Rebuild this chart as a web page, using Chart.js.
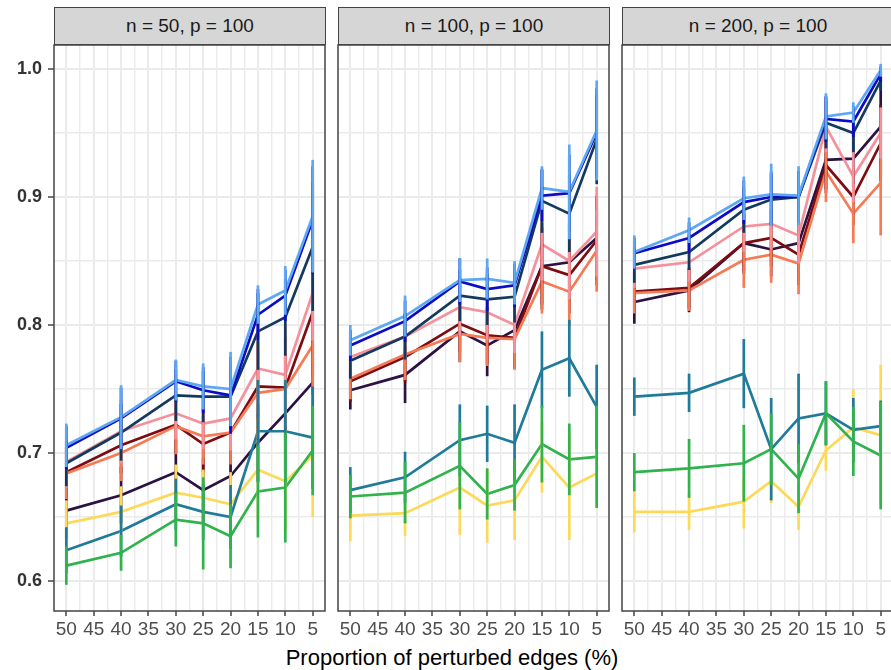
<!DOCTYPE html>
<html><head><meta charset="utf-8">
<script src="https://cdn.jsdelivr.net/npm/chart.js@4.4.1/dist/chart.umd.min.js"></script>
<style>
html,body{margin:0;padding:0;background:#fff;width:891px;height:670px;overflow:hidden;}
#wrap{position:relative;width:891px;height:670px;overflow:hidden;font-family:"Liberation Sans",Arial,sans-serif;}
canvas{position:absolute;}
.strip{position:absolute;top:7px;height:38px;background:#d6d6d6;border:1.5px solid #444;box-sizing:border-box;font-size:19px;color:#1a1a1a;display:flex;align-items:center;justify-content:center;}
#xtitle{position:absolute;left:0;width:904px;top:645px;line-height:26px;text-align:center;font-size:22px;color:#000;}
</style></head>
<body><div id="wrap"><div id="xtitle">Proportion of perturbed edges (%)</div></div>
<script>
// ---------- data ----------
const xPct = [50, 40, 30, 25, 20, 15, 10, 5];
const panelTitles = ['n = 50, p = 100', 'n = 100, p = 100', 'n = 200, p = 100'];
const xTickLabels = ['50', '45', '40', '35', '30', '25', '20', '15', '10', '5'];
const yTickLabels = ['0.6', '0.7', '0.8', '0.9', '1.0'];

// each array: [n=50, n=100, n=200], values at xPct
const meanLightBlue = [
  [0.706, 0.728, 0.757, 0.752, 0.750, 0.816, 0.827, 0.885],
  [0.788, 0.807, 0.835, 0.836, 0.833, 0.907, 0.904, 0.952],
  [0.857, 0.874, 0.899, 0.902, 0.901, 0.963, 0.966, 0.999]];
const errLightBlue = [
  [0.017, 0.025, 0.016, 0.018, 0.029, 0.015, 0.019, 0.044],
  [0.012, 0.016, 0.017, 0.016, 0.017, 0.017, 0.037, 0.039],
  [0.013, 0.010, 0.017, 0.024, 0.023, 0.018, 0.008, 0.005]];
const meanBlue = [
  [0.704, 0.727, 0.756, 0.749, 0.745, 0.808, 0.823, 0.882],
  [0.784, 0.803, 0.834, 0.828, 0.831, 0.901, 0.903, 0.950],
  [0.856, 0.868, 0.896, 0.900, 0.900, 0.961, 0.959, 0.996]];
const errBlue = [
  [0.017, 0.024, 0.016, 0.018, 0.030, 0.020, 0.020, 0.042],
  [0.012, 0.016, 0.018, 0.017, 0.017, 0.020, 0.030, 0.035],
  [0.012, 0.012, 0.017, 0.020, 0.020, 0.018, 0.012, 0.006]];
const meanNavy = [
  [0.692, 0.716, 0.745, 0.744, 0.744, 0.795, 0.806, 0.861],
  [0.772, 0.791, 0.823, 0.820, 0.822, 0.897, 0.887, 0.945],
  [0.847, 0.857, 0.890, 0.898, 0.900, 0.958, 0.950, 0.991]];
const errNavy = [
  [0.018, 0.022, 0.020, 0.020, 0.025, 0.030, 0.030, 0.050],
  [0.014, 0.018, 0.020, 0.020, 0.020, 0.025, 0.030, 0.035],
  [0.014, 0.014, 0.018, 0.020, 0.020, 0.020, 0.015, 0.008]];
const meanPink = [
  [0.693, 0.717, 0.731, 0.723, 0.727, 0.766, 0.761, 0.825],
  [0.775, 0.791, 0.814, 0.810, 0.800, 0.863, 0.850, 0.873],
  [0.844, 0.849, 0.877, 0.879, 0.870, 0.955, 0.916, 0.950]];
const errPink = [
  [0.020, 0.025, 0.020, 0.020, 0.025, 0.035, 0.040, 0.037],
  [0.016, 0.018, 0.022, 0.022, 0.022, 0.028, 0.030, 0.035],
  [0.015, 0.015, 0.020, 0.020, 0.022, 0.020, 0.020, 0.020]];
const meanDarkRed = [
  [0.685, 0.706, 0.722, 0.707, 0.716, 0.752, 0.751, 0.810],
  [0.756, 0.775, 0.801, 0.792, 0.790, 0.846, 0.839, 0.866],
  [0.826, 0.829, 0.864, 0.868, 0.855, 0.925, 0.900, 0.942]];
const errDarkRed = [
  [0.020, 0.022, 0.022, 0.022, 0.025, 0.035, 0.040, 0.050],
  [0.016, 0.020, 0.022, 0.022, 0.024, 0.030, 0.030, 0.035],
  [0.016, 0.016, 0.022, 0.022, 0.024, 0.022, 0.022, 0.030]];
const meanCoral = [
  [0.684, 0.700, 0.721, 0.713, 0.716, 0.747, 0.750, 0.784],
  [0.758, 0.777, 0.793, 0.790, 0.789, 0.834, 0.826, 0.858],
  [0.825, 0.827, 0.851, 0.855, 0.848, 0.920, 0.887, 0.911]];
const errCoral = [
  [0.020, 0.022, 0.022, 0.022, 0.025, 0.035, 0.040, 0.045],
  [0.016, 0.020, 0.022, 0.022, 0.024, 0.025, 0.027, 0.032],
  [0.016, 0.016, 0.022, 0.022, 0.024, 0.024, 0.023, 0.041]];
const meanDarkPurple = [
  [0.655, 0.667, 0.685, 0.671, 0.682, 0.708, 0.731, 0.755],
  [0.749, 0.761, 0.795, 0.784, 0.796, 0.846, 0.849, 0.868],
  [0.818, 0.827, 0.864, 0.859, 0.864, 0.929, 0.930, 0.955]];
const errDarkPurple = [
  [0.022, 0.022, 0.025, 0.025, 0.028, 0.030, 0.045, 0.057],
  [0.015, 0.022, 0.024, 0.024, 0.030, 0.034, 0.031, 0.033],
  [0.017, 0.017, 0.024, 0.021, 0.028, 0.023, 0.022, 0.040]];
const meanTeal = [
  [0.624, 0.639, 0.660, 0.654, 0.650, 0.717, 0.717, 0.712],
  [0.671, 0.681, 0.710, 0.715, 0.708, 0.765, 0.774, 0.736],
  [0.744, 0.747, 0.762, 0.703, 0.727, 0.731, 0.718, 0.721]];
const errTeal = [
  [0.018, 0.020, 0.020, 0.022, 0.025, 0.040, 0.040, 0.040],
  [0.018, 0.020, 0.028, 0.022, 0.030, 0.030, 0.030, 0.033],
  [0.015, 0.015, 0.027, 0.040, 0.035, 0.025, 0.025, 0.020]];
const meanYellow = [
  [0.645, 0.654, 0.669, 0.665, 0.660, 0.687, 0.678, 0.698],
  [0.651, 0.653, 0.673, 0.659, 0.663, 0.697, 0.673, 0.684],
  [0.654, 0.654, 0.662, 0.678, 0.658, 0.702, 0.720, 0.714]];
const errYellow = [
  [0.018, 0.020, 0.022, 0.022, 0.025, 0.040, 0.040, 0.048],
  [0.020, 0.018, 0.037, 0.029, 0.031, 0.028, 0.041, 0.023],
  [0.016, 0.014, 0.021, 0.017, 0.018, 0.016, 0.030, 0.055]];
const meanGreen = [
  [0.612, 0.622, 0.648, 0.645, 0.635, 0.670, 0.673, 0.702],
  [0.666, 0.669, 0.690, 0.668, 0.675, 0.707, 0.695, 0.697],
  [0.685, 0.688, 0.692, 0.703, 0.680, 0.731, 0.709, 0.698]];
const errGreen = [
  [0.015, 0.014, 0.021, 0.036, 0.025, 0.036, 0.043, 0.035],
  [0.017, 0.024, 0.034, 0.020, 0.020, 0.030, 0.028, 0.040],
  [0.015, 0.023, 0.030, 0.028, 0.027, 0.025, 0.027, 0.042]];

// drawing order: bottom -> top
const series = [
  {mean: meanDarkPurple, err: errDarkPurple, color: '#2c1242'},
  {mean: meanDarkRed,    err: errDarkRed,    color: '#7a0c12'},
  {mean: meanCoral,      err: errCoral,      color: '#f47b55'},
  {mean: meanPink,       err: errPink,       color: '#f4919c'},
  {mean: meanNavy,       err: errNavy,       color: '#133a5e'},
  {mean: meanBlue,       err: errBlue,       color: '#0b0bc8'},
  {mean: meanLightBlue,  err: errLightBlue,  color: '#5ea8f2'},
  {mean: meanYellow,     err: errYellow,     color: '#fdd95a'},
  {mean: meanTeal,       err: errTeal,       color: '#1f7b99'},
  {mean: meanGreen,      err: errGreen,      color: '#30b24c'}
];

// ---------- layout ----------
const FONT = '"Liberation Sans", Arial, sans-serif';
const PANEL_LEFT = [54, 338, 622];
const PANEL_W = 271;
const PANEL_TOP = 45, PANEL_H = 566;
const PAD = 3;
const X_MIN = 2.75, X_MAX = 52.25;
const Y_MIN = 0.57656, Y_MAX = 1.01875;
const LW = 2.7;

const xMajor = xTickLabels.map(Number);
const xGrid = [];
xMajor.forEach((v, i) => { xGrid.push(v); if (i < xMajor.length - 1) xGrid.push((v + xMajor[i + 1]) / 2); });
const yMajor = yTickLabels.map(Number);
const yGrid = [];
yMajor.forEach((v, i) => { yGrid.push(v); if (i < yMajor.length - 1) yGrid.push((v + yMajor[i + 1]) / 2); });
const isMajorX = v => xMajor.some(m => Math.abs(m - v) < 1e-6);
const isMajorY = v => yMajor.some(m => Math.abs(m - v) < 1e-6);
const xLabel = v => { const i = xMajor.findIndex(m => Math.abs(m - v) < 1e-6); return i >= 0 ? xTickLabels[i] : ''; };
const yLabel = v => { const i = yMajor.findIndex(m => Math.abs(m - v) < 1e-6); return i >= 0 ? yTickLabels[i] : ''; };

const errorBarPlugin = {
  id: 'errbars',
  afterDatasetsDraw(chart) {
    const {ctx, chartArea, scales: {x, y}} = chart;
    ctx.save();
    ctx.beginPath();
    ctx.rect(chartArea.left, chartArea.top, chartArea.width, chartArea.height);
    ctx.clip();
    ctx.lineCap = 'butt';
    const dss = chart.data.datasets;
    for (let d = dss.length - 1; d >= 0; d--) {
      const ds = dss[d];
      ctx.strokeStyle = ds.borderColor;
      ctx.lineWidth = LW;
      ds.data.forEach((p, i) => {
        const px = x.getPixelForValue(p.x);
        ctx.beginPath();
        ctx.moveTo(px, y.getPixelForValue(p.y - ds.err[i]));
        ctx.lineTo(px, y.getPixelForValue(p.y + ds.err[i]));
        ctx.stroke();
      });
    }
    ctx.restore();
  }
};
const borderPlugin = {
  id: 'panelBorder',
  afterDraw(chart) {
    const {ctx, chartArea: a} = chart;
    ctx.save();
    ctx.strokeStyle = '#444';
    ctx.lineWidth = 1.5;
    ctx.strokeRect(a.left, a.top, a.width, a.height);
    ctx.restore();
  }
};

const wrap = document.getElementById('wrap');

function makePanel(pi) {
  const first = pi === 0;
  const yAxisW = first ? 54 : 0;
  const padL = first ? 0 : PAD;
  const cw = padL + yAxisW + PANEL_W + PAD;
  const xAxisH = 59;
  const ch = PAD + PANEL_H + xAxisH;
  const left = PANEL_LEFT[pi] - yAxisW - padL;

  const strip = document.createElement('div');
  strip.className = 'strip';
  strip.style.left = PANEL_LEFT[pi] + 'px';
  strip.style.width = (PANEL_W + 1) + 'px';
  strip.textContent = panelTitles[pi];
  wrap.appendChild(strip);

  const canvas = document.createElement('canvas');
  canvas.width = cw; canvas.height = ch;
  canvas.style.width = cw + 'px'; canvas.style.height = ch + 'px';
  canvas.style.left = left + 'px';
  canvas.style.top = (PANEL_TOP - PAD) + 'px';
  wrap.appendChild(canvas);

  const datasets = series.map(s => ({
    data: xPct.map((x, i) => ({x: x, y: s.mean[pi][i]})),
    err: s.err[pi],
    borderColor: s.color,
    backgroundColor: s.color,
    borderWidth: LW,
    pointRadius: 0,
    pointHoverRadius: 0,
    tension: 0,
    fill: false,
    borderJoinStyle: 'miter'
  })).reverse(); // dataset 0 is drawn on top in Chart.js

  new Chart(canvas, {
    type: 'line',
    data: {datasets},
    options: {
      responsive: false,
      animation: false,
      devicePixelRatio: 1,
      layout: {padding: {left: padL, right: PAD, top: PAD, bottom: 0}},
      plugins: {legend: {display: false}, title: {display: false}, tooltip: {enabled: false}},
      events: [],
      scales: {
        x: {
          type: 'linear', reverse: true, min: X_MIN, max: X_MAX,
          afterBuildTicks: ax => { ax.ticks = xGrid.map(v => ({value: v})); },
          afterFit: ax => { ax.height = xAxisH; ax.paddingLeft = 0; ax.paddingRight = 0; },
          ticks: {
            autoSkip: false, maxRotation: 0, minRotation: 0, padding: 2,
            color: '#4d4d4d', font: {family: FONT, size: 19},
            callback: v => xLabel(v)
          },
          grid: {
            color: '#ebebeb',
            lineWidth: c => (c.tick && isMajorX(c.tick.value)) ? 2 : 1.4,
            drawTicks: true, tickLength: 5, tickWidth: 1.5,
            tickColor: c => (c.tick && isMajorX(c.tick.value)) ? '#444' : 'rgba(0,0,0,0)'
          },
          border: {display: false}
        },
        y: {
          type: 'linear', min: Y_MIN, max: Y_MAX,
          afterBuildTicks: ax => { ax.ticks = yGrid.map(v => ({value: v})); },
          afterFit: ax => { ax.width = yAxisW; ax.paddingTop = 0; ax.paddingBottom = 0; },
          ticks: {
            display: first, padding: 6, color: '#333',
            font: {family: FONT, size: 18, weight: 'bold'},
            callback: v => yLabel(v)
          },
          grid: {
            color: '#ebebeb',
            lineWidth: c => (c.tick && isMajorY(c.tick.value)) ? 2 : 1.4,
            drawTicks: first, tickLength: 6, tickWidth: 1.5,
            tickColor: c => (c.tick && isMajorY(c.tick.value)) ? '#444' : 'rgba(0,0,0,0)'
          },
          border: {display: false}
        }
      }
    },
    plugins: [errorBarPlugin, borderPlugin]
  });
}

[0, 1, 2].forEach(makePanel);
</script>
</body></html>
